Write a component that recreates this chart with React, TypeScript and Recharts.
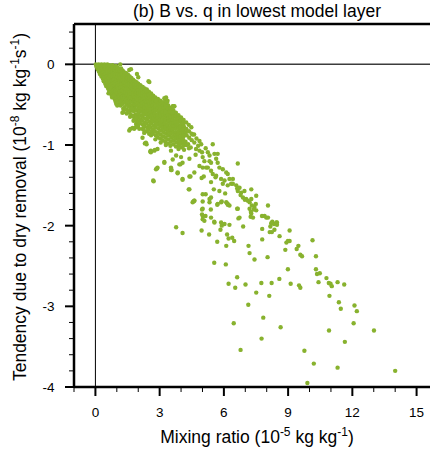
import { ScatterChart, Scatter, XAxis, YAxis, ReferenceLine } from "recharts";

// mixing ratio q (1e-5 kg/kg) vs dry-removal tendency B (1e-8 kg/kg/s)

// dense core of the cloud near the origin
const coreBand: [number, number][] = [
  [0.02, 0], [0.04, -0.02], [0.09, -0.01], [0.08, -0.04], [0.11, -0.06], [0.15, 0], [0.14, -0.03], [0.17, -0.07], [0.16, -0.09],
  [0.21, -0.01], [0.22, -0.04], [0.2, -0.07], [0.23, -0.1], [0.21, -0.12],
  [0.28, 0], [0.27, -0.03], [0.29, -0.06], [0.26, -0.09], [0.3, -0.12], [0.28, -0.15],
  [0.35, -0.01], [0.33, -0.04], [0.36, -0.07], [0.34, -0.11], [0.37, -0.14], [0.35, -0.18],
  [0.42, 0], [0.41, -0.03], [0.43, -0.06], [0.4, -0.1], [0.44, -0.13], [0.42, -0.17], [0.39, -0.21],
  [0.49, -0.01], [0.48, -0.05], [0.5, -0.08], [0.47, -0.12], [0.51, -0.16], [0.49, -0.2], [0.46, -0.24], [0.5, -0.27],
  [0.56, 0], [0.57, -0.03], [0.55, -0.07], [0.58, -0.11], [0.56, -0.15], [0.54, -0.19], [0.57, -0.23], [0.55, -0.27], [0.59, -0.3],
  [0.64, -0.01], [0.63, -0.05], [0.66, -0.09], [0.64, -0.13], [0.62, -0.17], [0.65, -0.21], [0.63, -0.25], [0.66, -0.29], [0.64, -0.33], [0.61, -0.36],
  [0.72, -0.02], [0.71, -0.06], [0.73, -0.1], [0.7, -0.14], [0.74, -0.18], [0.72, -0.22], [0.69, -0.26], [0.73, -0.3], [0.71, -0.35], [0.75, -0.38],
  [0.8, -0.01], [0.81, -0.04], [0.79, -0.08], [0.82, -0.12], [0.8, -0.16], [0.78, -0.2], [0.81, -0.24], [0.79, -0.28], [0.83, -0.32], [0.8, -0.37], [0.78, -0.41],
  [0.88, -0.03], [0.87, -0.07], [0.9, -0.11], [0.88, -0.15], [0.86, -0.19], [0.89, -0.23], [0.87, -0.27], [0.91, -0.31], [0.88, -0.35], [0.86, -0.39], [0.9, -0.43],
  [0.96, -0.02], [0.95, -0.05], [0.97, -0.09], [0.94, -0.13], [0.98, -0.17], [0.96, -0.21], [0.93, -0.25], [0.97, -0.29], [0.95, -0.33], [0.99, -0.38], [0.96, -0.42], [0.94, -0.46],
  [1.04, -0.04], [1.03, -0.08], [1.05, -0.12], [1.02, -0.16], [1.06, -0.2], [1.04, -0.24], [1.01, -0.28], [1.05, -0.32], [1.03, -0.36], [1.07, -0.4], [1.04, -0.45], [1.06, -0.5],
  [1.12, -0.06], [1.11, -0.1], [1.13, -0.14], [1.1, -0.18], [1.14, -0.22], [1.12, -0.26], [1.09, -0.3], [1.13, -0.34], [1.11, -0.39], [1.15, -0.43], [1.12, -0.48],
  [1.2, -0.05], [1.19, -0.09], [1.21, -0.13], [1.18, -0.17], [1.22, -0.21], [1.2, -0.25], [1.17, -0.29], [1.21, -0.33], [1.19, -0.37], [1.23, -0.41], [1.2, -0.46], [1.18, -0.51],
  [1.28, -0.08], [1.27, -0.12], [1.29, -0.16], [1.26, -0.2], [1.3, -0.24], [1.28, -0.28], [1.25, -0.32], [1.29, -0.36], [1.27, -0.4], [1.31, -0.44], [1.28, -0.49], [1.3, -0.55],
  [1.36, -0.1], [1.35, -0.14], [1.37, -0.18], [1.34, -0.22], [1.38, -0.26], [1.36, -0.3], [1.33, -0.34], [1.37, -0.38], [1.35, -0.42], [1.39, -0.47], [1.36, -0.53],
  [1.44, -0.11], [1.43, -0.15], [1.45, -0.19], [1.42, -0.23], [1.46, -0.27], [1.44, -0.31], [1.41, -0.35], [1.45, -0.39], [1.43, -0.44], [1.47, -0.5], [1.44, -0.56], [1.46, -0.61],
  [1.52, -0.13], [1.51, -0.17], [1.53, -0.21], [1.5, -0.25], [1.54, -0.29], [1.52, -0.33], [1.49, -0.37], [1.53, -0.41], [1.51, -0.46], [1.55, -0.52], [1.53, -0.58],
  [1.6, -0.15], [1.59, -0.19], [1.61, -0.23], [1.58, -0.27], [1.62, -0.31], [1.6, -0.35], [1.57, -0.39], [1.61, -0.43], [1.59, -0.48], [1.63, -0.55], [1.6, -0.6], [1.62, -0.65],
  [1.68, -0.17], [1.67, -0.21], [1.69, -0.25], [1.66, -0.29], [1.7, -0.33], [1.68, -0.37], [1.65, -0.41], [1.69, -0.46], [1.67, -0.51], [1.7, -0.57], [1.68, -0.63],
  [1.76, -0.19], [1.75, -0.23], [1.77, -0.27], [1.74, -0.31], [1.78, -0.35], [1.76, -0.39], [1.73, -0.43], [1.77, -0.47], [1.75, -0.52], [1.79, -0.58], [1.76, -0.64], [1.78, -0.7],
  [1.84, -0.21], [1.83, -0.25], [1.85, -0.29], [1.82, -0.33], [1.86, -0.37], [1.84, -0.41], [1.81, -0.45], [1.85, -0.5], [1.83, -0.55], [1.87, -0.62], [1.85, -0.67],
  [1.92, -0.22], [1.91, -0.26], [1.93, -0.3], [1.9, -0.34], [1.94, -0.38], [1.92, -0.42], [1.89, -0.46], [1.93, -0.51], [1.91, -0.57], [1.94, -0.63], [1.92, -0.69], [1.9, -0.74],
  [2.0, -0.24], [2.01, -0.28], [1.99, -0.32], [2.02, -0.36], [2.0, -0.4], [1.98, -0.44], [2.01, -0.48], [1.99, -0.52], [2.03, -0.56], [2.0, -0.61], [1.98, -0.66], [2.02, -0.71], [2.0, -0.76],
  [2.1, -0.26], [2.09, -0.3], [2.11, -0.34], [2.08, -0.38], [2.12, -0.42], [2.1, -0.46], [2.07, -0.5], [2.11, -0.54], [2.09, -0.58], [2.12, -0.63], [2.1, -0.68], [2.08, -0.73],
  [2.2, -0.28], [2.21, -0.32], [2.19, -0.36], [2.22, -0.4], [2.2, -0.44], [2.18, -0.48], [2.21, -0.52], [2.19, -0.56], [2.23, -0.6], [2.2, -0.65], [2.18, -0.7], [2.22, -0.75], [2.2, -0.8],
  [2.3, -0.3], [2.29, -0.34], [2.31, -0.38], [2.28, -0.42], [2.32, -0.46], [2.3, -0.5], [2.27, -0.54], [2.31, -0.58], [2.29, -0.62], [2.32, -0.67], [2.3, -0.72], [2.28, -0.77],
  [2.4, -0.31], [2.41, -0.35], [2.39, -0.39], [2.42, -0.43], [2.4, -0.47], [2.38, -0.51], [2.41, -0.55], [2.39, -0.59], [2.43, -0.63], [2.4, -0.68], [2.38, -0.73], [2.42, -0.78], [2.4, -0.83],
  [2.5, -0.34], [2.49, -0.38], [2.51, -0.42], [2.48, -0.46], [2.52, -0.5], [2.5, -0.54], [2.47, -0.58], [2.51, -0.62], [2.49, -0.66], [2.52, -0.71], [2.5, -0.76], [2.48, -0.81], [2.51, -0.86],
  [2.6, -0.36], [2.61, -0.4], [2.59, -0.44], [2.62, -0.48], [2.6, -0.52], [2.58, -0.56], [2.61, -0.6], [2.59, -0.64], [2.63, -0.68], [2.6, -0.73], [2.58, -0.78], [2.62, -0.83], [2.6, -0.88],
  [2.7, -0.39], [2.69, -0.43], [2.71, -0.47], [2.68, -0.51], [2.72, -0.55], [2.7, -0.59], [2.67, -0.63], [2.71, -0.67], [2.69, -0.71], [2.72, -0.76], [2.7, -0.81], [2.68, -0.86],
  [2.8, -0.41], [2.81, -0.45], [2.79, -0.49], [2.82, -0.53], [2.8, -0.57], [2.78, -0.61], [2.81, -0.65], [2.79, -0.69], [2.83, -0.73], [2.8, -0.78], [2.78, -0.83], [2.82, -0.88], [2.8, -0.93],
  [2.92, -0.43], [2.91, -0.47], [2.93, -0.51], [2.9, -0.55], [2.94, -0.59], [2.92, -0.63], [2.89, -0.67], [2.93, -0.71], [2.91, -0.75], [2.94, -0.8], [2.92, -0.85], [2.9, -0.9],
  [3.04, -0.45], [3.03, -0.49], [3.05, -0.53], [3.02, -0.57], [3.06, -0.61], [3.04, -0.65], [3.01, -0.69], [3.05, -0.73], [3.03, -0.77], [3.06, -0.82], [3.04, -0.87], [3.02, -0.92], [3.05, -0.97],
  [3.16, -0.47], [3.15, -0.51], [3.17, -0.55], [3.14, -0.59], [3.18, -0.63], [3.16, -0.67], [3.13, -0.71], [3.17, -0.75], [3.15, -0.79], [3.18, -0.84], [3.16, -0.89], [3.14, -0.94],
  [3.28, -0.49], [3.27, -0.53], [3.29, -0.57], [3.26, -0.61], [3.3, -0.65], [3.28, -0.69], [3.25, -0.73], [3.29, -0.77], [3.27, -0.81], [3.3, -0.86], [3.28, -0.91], [3.26, -0.96], [3.29, -1.0],
  [3.4, -0.51], [3.39, -0.55], [3.41, -0.59], [3.38, -0.63], [3.42, -0.67], [3.4, -0.71], [3.37, -0.75], [3.41, -0.79], [3.39, -0.83], [3.42, -0.88], [3.4, -0.93], [3.38, -0.98],
  [3.52, -0.54], [3.51, -0.58], [3.53, -0.62], [3.5, -0.66], [3.54, -0.7], [3.52, -0.74], [3.49, -0.78], [3.53, -0.82], [3.51, -0.86], [3.54, -0.91], [3.52, -0.96], [3.5, -1.01],
  [3.64, -0.57], [3.63, -0.61], [3.65, -0.65], [3.62, -0.69], [3.66, -0.73], [3.64, -0.77], [3.61, -0.81], [3.65, -0.85], [3.63, -0.89], [3.66, -0.94], [3.64, -0.99],
  [3.76, -0.6], [3.75, -0.64], [3.77, -0.68], [3.74, -0.72], [3.78, -0.76], [3.76, -0.8], [3.73, -0.84], [3.77, -0.88], [3.75, -0.92], [3.78, -0.97], [3.76, -1.02],
  [3.88, -0.63], [3.87, -0.67], [3.89, -0.71], [3.86, -0.75], [3.9, -0.79], [3.88, -0.83], [3.85, -0.87], [3.89, -0.91], [3.87, -0.95], [3.9, -1.0], [3.88, -1.05],
  [4.0, -0.66], [3.99, -0.7], [4.01, -0.74], [3.98, -0.78], [4.02, -0.82], [4.0, -0.86], [3.97, -0.9], [4.01, -0.94], [3.99, -0.98], [4.02, -1.03],
  [4.12, -0.69], [4.11, -0.73], [4.13, -0.77], [4.1, -0.81], [4.14, -0.85], [4.12, -0.89], [4.09, -0.93], [4.13, -0.97], [4.11, -1.01], [4.14, -1.06],
  [4.24, -0.72], [4.25, -0.8], [4.22, -0.84], [4.26, -0.88], [4.21, -0.96], [4.25, -1.0],
  [4.36, -0.75], [4.37, -0.83], [4.38, -0.91], [4.33, -0.99], [4.37, -1.04],
  [4.48, -0.78], [4.49, -0.86], [4.5, -0.94], [4.45, -1.03],
  [4.61, -0.87], [4.62, -0.97],
];

// looser continuation of the band
const looseBand: [number, number][] = [
  [4.54, -0.87], [5.48, -0.99], [4.86, -0.95], [4.94, -0.99], [4.7, -1.05], [4.86, -1.07], [5.25, -1.09], [5.33, -1.13],
  [5.56, -1.11], [5.71, -1.11], [5.01, -1.15], [5.09, -1.2], [5.33, -1.2], [5.4, -1.22], [5.64, -1.17], [5.71, -1.22],
  [4.86, -1.26], [5.01, -1.28], [5.25, -1.28], [5.4, -1.32], [5.79, -1.28], [5.95, -1.3], [6.11, -1.34], [6.18, -1.36],
  [5.48, -1.36], [5.64, -1.38], [6.65, -1.23], [5.87, -1.42], [6.03, -1.44], [6.42, -1.42], [6.34, -1.48], [6.18, -1.5],
  [6.58, -1.5], [6.73, -1.53], [6.65, -1.57], [6.81, -1.59], [6.96, -1.57], [6.89, -1.65], [7.04, -1.67], [7.2, -1.71],
  [7.28, -1.67], [7.51, -1.63], [7.28, -1.55], [7.43, -1.77], [7.51, -1.81], [7.9, -1.88], [7.98, -1.9], [8.21, -1.97],
  [8.45, -1.96], [8.06, -1.75], [7.2, -1.79], [7.28, -1.85], [6.73, -1.9], [6.65, -1.79], [6.26, -1.75], [6.11, -1.71],
  [6.18, -1.73], [5.71, -1.73], [5.87, -1.71], [5.4, -1.65], [5.33, -1.71], [5.01, -1.61], [5.01, -1.79], [5.01, -1.88],
  [5.09, -1.94], [5.4, -1.9], [5.56, -1.96], [5.87, -1.96], [6.03, -1.98], [4.39, -1.55], [4.62, -1.69], [4.54, -1.71],
  [4.07, -1.42], [3.84, -1.34], [3.53, -1.31], [3.22, -1.22], [2.83, -1.3], [2.7, -1.44], [3.77, -2.02], [4.07, -1.22],
  [4.39, -1.17], [3.77, -1.13], [4.0, -1.15], [3.53, -1.07], [2.9, -1.05], [2.75, -1.07], [2.59, -1.09],
  [5.17, -1.28], [5.61, -1.4], [5.4, -1.46], [5.95, -1.48], [6.26, -1.42], [6.42, -1.48], [6.62, -1.54], [6.78, -1.62],
  [6.98, -1.68], [7.31, -1.75], [7.78, -1.88], [8.06, -1.9], [8.26, -1.95], [8.34, -1.98], [5.53, -1.55], [5.79, -1.57],
  [6.06, -1.6], [7.12, -1.69], [7.49, -1.73], [7.26, -1.83], [7.4, -1.8], [7.25, -1.89], [7.36, -1.9], [8.48, -1.96],
  [4.72, -0.92], [4.8, -1.01], [5.15, -1.04], [4.68, -1.12], [4.98, -1.09],
];

// scattered points around and below the band
const scattered: [number, number][] = [
  [1.16, 0], [1.58, -0.07], [1.66, -0.06], [1.94, -0.12], [2.0, -0.16], [2.52, -0.22], [2.48, -0.21], [2.2, -0.28],
  [2.36, -0.32], [2.83, -0.45], [3.26, -0.43], [3.3, -0.41], [3.37, -0.45], [3.65, -0.52], [3.5, -0.59], [3.26, -0.59],
  [3.34, -0.47], [3.61, -0.52], [3.22, -0.42], [3.69, -0.52], [3.61, -0.6],
  [0.97, -0.49], [1.02, -0.51], [1.31, -0.59], [1.26, -0.6], [1.72, -0.55], [1.8, -0.69], [1.89, -0.67], [1.63, -0.8],
  [1.74, -0.79], [1.97, -0.77], [2.05, -0.8], [2.25, -0.81], [1.81, -0.8], [1.58, -0.82], [1.89, -0.78], [2.28, -0.85],
  [2.2, -0.91], [2.36, -0.97], [2.59, -1.07], [2.9, -1.28], [3.22, -1.21], [3.53, -1.28], [3.92, -1.24],
  [2.31, -0.98], [2.39, -0.99], [2.56, -1.08], [2.78, -1.06], [2.72, -1.45], [2.88, -1.29],
  [3.61, -1.18], [3.97, -1.24], [3.56, -1.31], [3.84, -1.35], [4.07, -1.43], [4.39, -1.39], [4.62, -1.34], [4.36, -1.55],
  [5.06, -1.39], [4.96, -1.41], [4.44, -1.39], [5.15, -1.61], [4.62, -1.69], [4.58, -1.7], [5.01, -1.7], [5.33, -1.67],
  [4.98, -1.8], [5.39, -1.8], [5.69, -1.74], [5.9, -1.7], [6.14, -1.72], [6.18, -1.74], [6.62, -1.79], [4.98, -1.86],
  [5.01, -1.92], [5.14, -1.88], [5.55, -1.95], [6.68, -1.91], [5.9, -2.0], [5.84, -2.05], [6.26, -1.99], [4.96, -2.06],
  [5.31, -2.11], [6.15, -2.11], [6.22, -2.16], [6.39, -2.15], [6.48, -2.19], [5.69, -2.2], [6.11, -2.25], [4.07, -2.09],
  [6.9, -2.01], [7.79, -2.04], [8.24, -1.97], [8.48, -1.99], [8.17, -2.01], [8.36, -2.05], [8.14, -2.08], [8.24, -2.08],
  [9.07, -2.06], [7.79, -2.17], [7.15, -2.25], [7.2, -2.34], [7.43, -2.42], [8.04, -2.39], [8.6, -2.13], [8.92, -2.21],
  [8.99, -2.19], [9.07, -2.19], [8.87, -2.3], [9.48, -2.25], [9.4, -2.29], [9.57, -2.36], [9.65, -2.38], [10.14, -2.18],
  [10.3, -2.38], [8.99, -2.54], [10.3, -2.54], [10.35, -2.6], [10.48, -2.59], [10.42, -2.7], [10.79, -2.65], [10.9, -2.71],
  [10.98, -2.72], [11.04, -2.75], [11.31, -2.7], [11.62, -2.73], [7.01, -2.73], [7.75, -2.71], [8.23, -2.71], [8.59, -2.66],
  [9.12, -2.72], [9.51, -2.74], [9.57, -2.77], [7.51, -2.83], [8.12, -2.87], [10.93, -2.87], [7.14, -2.98], [11.37, -2.95],
  [11.46, -3.03], [12.1, -2.99], [12.21, -3.06], [7.84, -3.14], [12.06, -3.21], [8.65, -3.26], [10.91, -3.3], [13.01, -3.3],
  [7.76, -3.4], [11.65, -3.44], [6.78, -3.54], [9.76, -3.55], [10.2, -3.71], [11.31, -3.76], [14.0, -3.8], [9.9, -3.95],
  [5.55, -2.46], [6.09, -2.48], [6.62, -2.64], [6.22, -2.72], [6.53, -2.77], [6.46, -3.21],
];

const xTicks = [-1, 0, 1, 2, 3, 4, 5, 6, 7, 8, 9, 10, 11, 12, 13, 14, 15];
const xLabelTicks = [0, 3, 6, 9, 12, 15];
const yTicks = [
  -4, -3.8, -3.6, -3.4, -3.2, -3, -2.8, -2.6, -2.4, -2.2, -2, -1.8, -1.6, -1.4, -1.2,
  -1, -0.8, -0.6, -0.4, -0.2, 0, 0.2, 0.4,
];

const points = [...coreBand, ...looseBand, ...scattered].map(([q, b]) => ({ q, b }));

const FONT = "'Liberation Sans', Arial, Helvetica, sans-serif";
const DOT = "#88b22e";

function XTick(props: any) {
  const { x, y, payload } = props;
  const major = xLabelTicks.includes(payload.value);
  return (
    <g>
      <line x1={x} x2={x} y1={y} y2={y + (major ? 9 : 5)} stroke="#000" strokeWidth={major ? 2 : 1} />
      {major && (
        <text x={x} y={y + 30} textAnchor="middle" fontSize={13.5} fontFamily={FONT} fill="#000">
          {payload.value}
        </text>
      )}
    </g>
  );
}

function YTick(props: any) {
  const { x, y, payload } = props;
  const major = Number.isInteger(payload.value);
  return (
    <g>
      <line x1={x - (major ? 9 : 5)} x2={x} y1={y} y2={y} stroke="#000" strokeWidth={major ? 2 : 1} />
      {major && (
        <text x={x - 19.5} y={y + 5} textAnchor="end" fontSize={13.5} fontFamily={FONT} fill="#000">
          {payload.value}
        </text>
      )}
    </g>
  );
}

export default function App() {
  return (
    <div
      style={{
        position: "absolute",
        left: 0,
        top: 0,
        width: 430,
        height: 452,
        overflow: "hidden",
        background: "#fff",
      }}
    >
      <ScatterChart width={440} height={452} margin={{ top: 24, right: 2, bottom: 0, left: 0 }}>
        <XAxis
          type="number"
          dataKey="q"
          domain={[-1, 16]}
          ticks={xTicks}
          interval={0}
          allowDataOverflow
          height={65}
          tickSize={0}
          tickMargin={0}
          tickLine={false}
          tick={(p: any) => <XTick {...p} />}
          axisLine={{ stroke: "#000", strokeWidth: 2.5 }}
        />
        <YAxis
          type="number"
          dataKey="b"
          domain={[-4, 0.5]}
          ticks={yTicks}
          interval={0}
          allowDataOverflow
          width={74}
          tickSize={0}
          tickMargin={0}
          tickLine={false}
          tick={(p: any) => <YTick {...p} />}
          axisLine={{ stroke: "#000", strokeWidth: 2.5 }}
        />
        <Scatter
          data={points}
          isAnimationActive={false}
          shape={(p: any) => <circle cx={p.cx} cy={p.cy} r={2.2} fill={DOT} />}
        />
        <ReferenceLine y={0} stroke="#3c3c3c" strokeWidth={1.5} />
        <ReferenceLine x={0} stroke="#000" strokeWidth={1} />
        <ReferenceLine y={0.5} stroke="#000" strokeWidth={2.5} />
        <ReferenceLine x={16} stroke="#000" strokeWidth={2.5} />
      </ScatterChart>
      <svg
        width={430}
        height={452}
        style={{ position: "absolute", left: 0, top: 0, pointerEvents: "none" }}
        fontFamily={FONT}
        fill="#000"
      >
        <text x={257} y={17} textAnchor="middle" fontSize={17.5}>
          (b) B vs. q in lowest model layer
        </text>
        <text x={257} y={443} textAnchor="middle" fontSize={17.5}>
          <tspan>Mixing ratio (10</tspan>
          <tspan dy={-7} fontSize={12}>-5</tspan>
          <tspan dy={7}> kg kg</tspan>
          <tspan dy={-7} fontSize={12}>-1</tspan>
          <tspan dy={7}>)</tspan>
        </text>
        <text
          x={25.5}
          y={207}
          textAnchor="middle"
          fontSize={17.5}
          transform="rotate(-90 25.5 207)"
        >
          <tspan>Tendency due to dry removal (10</tspan>
          <tspan dy={-7} fontSize={12}>-8</tspan>
          <tspan dy={7}> kg kg</tspan>
          <tspan dy={-7} fontSize={12}>-1</tspan>
          <tspan dy={7}>s</tspan>
          <tspan dy={-7} fontSize={12}>-1</tspan>
          <tspan dy={7}>)</tspan>
        </text>
      </svg>
    </div>
  );
}
